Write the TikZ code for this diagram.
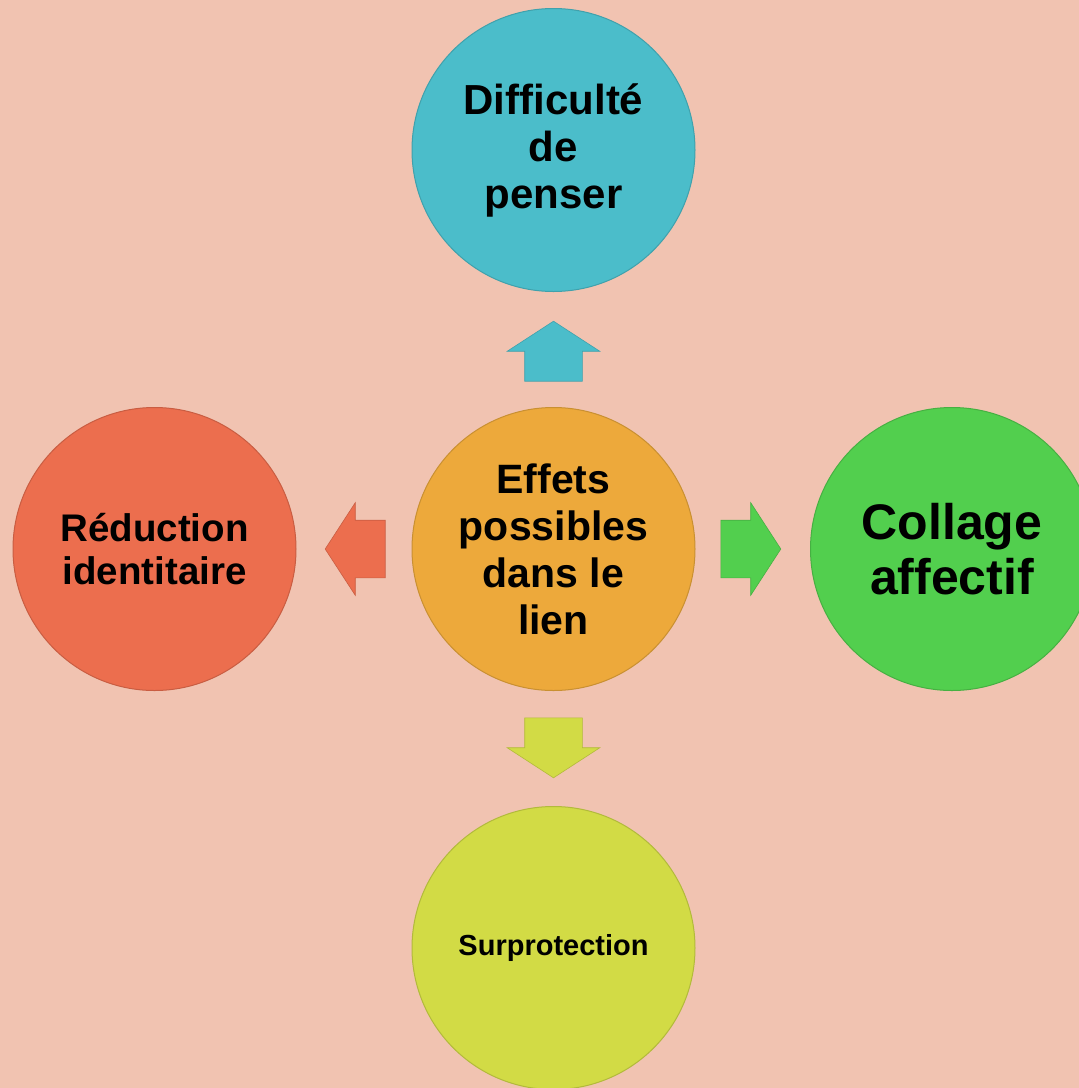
\documentclass[tikz,border=0pt]{standalone}
\usepackage{fontspec}
\setmainfont{Liberation Sans}
\usetikzlibrary{shapes.arrows,calc}
\definecolor{fond}{HTML}{F1C3B1}
\definecolor{bleu}{HTML}{4BBDCA}
\definecolor{orange}{HTML}{EDA93B}
\definecolor{rouge}{HTML}{EC6E4E}
\definecolor{vert}{HTML}{52CF4E}
\definecolor{jaune}{HTML}{D2DB45}

\begin{document}
\begin{tikzpicture}[x=1pt,y=-1pt]
\tikzset{rond/.style={circle, minimum size=283pt, inner sep=0pt, align=center, font=\bfseries, line width=1pt},
fleche/.style={single arrow, anchor=tail, minimum height=60pt, minimum width=92pt, single arrow head extend=17.5pt, single arrow tip angle=114, inner xsep=0pt, inner ysep=28.5pt, draw=#1!85!black, fill=#1, line width=0.6pt}}
\useasboundingbox (0,0) rectangle (1079,1088);
\fill[fond] (0,0) rectangle (1079,1088);
\node[rond, fill=orange, draw=orange!85!black, font=\fontsize{41}{47}\selectfont\bfseries] (E) at (553.5,549) {Effets\\possibles\\dans le\\lien};
\node[rond, fill=bleu, draw=bleu!85!black, font=\fontsize{42}{47}\selectfont\bfseries] (D) at (553.5,150) {Difficulté\\de\\penser};
\node[rond, fill=rouge, draw=rouge!85!black, font=\fontsize{38.5}{43}\selectfont\bfseries] (R) at (154.5,549) {Réduction\\identitaire};
\node[rond, fill=vert, draw=vert!85!black, font=\fontsize{50}{55}\selectfont\bfseries] (C) at (952,549) {Collage\\affectif};
\node[rond, fill=jaune, draw=jaune!85!black, font=\fontsize{29}{34}\selectfont\bfseries] (S) at (553.5,948) {Surprotection};
\node[fleche=bleu, rotate=90] (fD) at ($(E.north)+(0,-25.5)$) {};
\node[fleche=rouge, rotate=180] (fR) at ($(E.west)+(-26,0)$) {};
\node[fleche=vert] (fC) at ($(E.east)+(25,0)$) {};
\node[fleche=jaune, rotate=270] (fS) at ($(E.south)+(0,26.5)$) {};
\end{tikzpicture}
\end{document}
